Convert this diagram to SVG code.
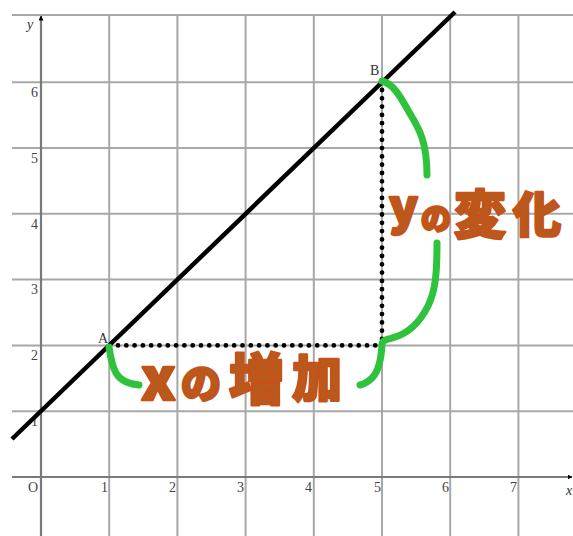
<svg xmlns="http://www.w3.org/2000/svg" width="573" height="536" viewBox="0 0 573 536">
<style>
.grid{stroke:#a8a8a8;stroke-width:2;fill:none}
.axis{stroke:#7a7a7a;stroke-width:2.2;fill:none}
.tick{font-family:"Liberation Serif",serif;font-size:14px;fill:#444}
.lbl{font-family:"Liberation Serif",serif;font-size:14px;fill:#333}
.brace{stroke:#2fc23c;stroke-width:7;fill:none;stroke-linecap:round;stroke-linejoin:round}
.hw{font-family:"Noto Sans CJK JP","Noto Sans",sans-serif;font-weight:900;fill:#b95a1c;stroke:#c4531a;stroke-width:2.5;stroke-linejoin:round}
</style>
<defs>
<marker id="arr" viewBox="0 0 10 10" refX="9" refY="5" markerWidth="5" markerHeight="5" orient="auto" markerUnits="userSpaceOnUse">
<path d="M0,0 L10,5 L0,10 z" fill="#000"/>
</marker>
</defs>
<rect width="573" height="536" fill="#fff"/>
<g id="grid">
<path class="grid" d="M109.2,15V536 M177.4,15V536 M245.6,15V536 M313.8,15V536 M382,15V536 M450.2,15V536 M518.4,15V536"/>
<path class="grid" d="M12,15H573 M12,82.2H573 M12,148H573 M12,213.8H573 M12,279.6H573 M12,345.4H573 M12,411.2H573"/>
</g>
<g id="axes">
<line class="axis" x1="41" y1="536" x2="41" y2="16" marker-end="url(#arr)"/>
<line class="axis" x1="12" y1="477" x2="572" y2="477" marker-end="url(#arr)"/>
<text class="lbl" x="27" y="29" font-style="italic">y</text>
<text class="lbl" x="566" y="495" font-style="italic">x</text>
<text class="tick" x="28" y="492">O</text>
<text class="tick" x="101" y="492">1</text>
<text class="tick" x="169" y="492">2</text>
<text class="tick" x="237" y="492">3</text>
<text class="tick" x="305" y="492">4</text>
<text class="tick" x="374" y="492">5</text>
<text class="tick" x="442" y="492">6</text>
<text class="tick" x="510" y="492">7</text>
<text class="tick" x="31" y="97">6</text>
<text class="tick" x="31" y="163">5</text>
<text class="tick" x="31" y="229">4</text>
<text class="tick" x="31" y="294">3</text>
<text class="tick" x="31" y="360">2</text>
<text class="tick" x="31" y="426">1</text>
</g>
<g id="connectors">
<line x1="12" y1="439" x2="455" y2="12" stroke="#000" stroke-width="4.5"/>
<path d="M118,345.4H380 M382,90V343" stroke="#000" stroke-width="4.8" stroke-linecap="round" stroke-dasharray="0 8.3" fill="none"/>
</g>
<g id="pointA"><text class="lbl" x="98" y="343">A</text></g>
<g id="pointB"><text class="lbl" x="370" y="75">B</text></g>
<g id="braces">
<path class="brace" d="M109,347 C111,360 113,368 116,373 C120,380 127,384 139,385"/>
<path class="brace" d="M437,243 C437,270 436,290 428,306 C420,322 408,334 392,338 C386,340 382,340 382,345 C381,362 378,372 372,378 C368,382 364,384 360,385"/>
<path class="brace" d="M382,81 C394,84 401,98 409,112 C418,127 427,140 427,175"/>
</g>
<g id="label-x">
<text class="hw" x="141" y="400" font-size="58">x</text>
<text class="hw" x="181" y="398" font-size="40">の</text>
<text class="hw" x="229" y="399" font-size="55">増</text>
<text class="hw" x="292" y="397" font-size="50">加</text>
</g>
<g id="label-y">
<text class="hw" x="389" y="224" font-size="48">y</text>
<text class="hw" x="421" y="229" font-size="30">の</text>
<text class="hw" x="454" y="234" font-size="52">変</text>
<text class="hw" x="513" y="232" font-size="48">化</text>
</g>
</svg>
